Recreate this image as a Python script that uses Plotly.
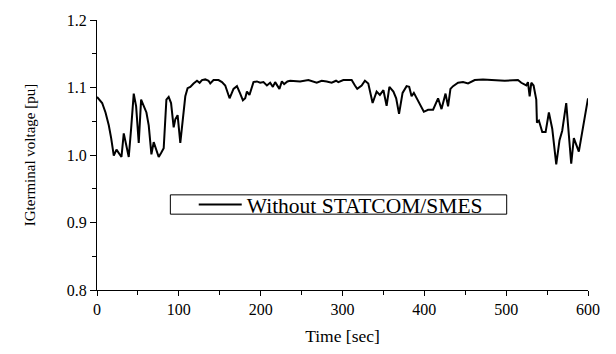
import plotly.graph_objects as go

# Induction generator terminal voltage over a 600 s wind-speed run
time_s = [
    0, 6.3, 10.4, 14.4, 17.3, 20.5, 23.8, 26.6, 29.9, 32.7, 36.0, 38.8, 41.7, 44.9,
    47.8, 51.0, 53.9, 57.1, 60.4, 63.2, 66.5, 69.3, 72.2, 75.4, 78.3, 81.5, 84.8,
    87.6, 90.5, 93.7, 95.7, 98.5, 101.8, 105.1, 107.9, 110.7, 114.0, 118.0, 122.2,
    125.4, 128.3, 132.3, 136.3, 138.4, 142.4, 148.5, 152.7, 156.7, 162.0, 166.8,
    171.0, 175.0, 178.3, 181.1, 183.2, 186.3, 191.2, 195.4, 199.4, 203.4, 207.6,
    211.6, 214.9, 217.7, 220.5, 222.9, 225.9, 228.7, 232.7, 236.0, 248.2, 258.3,
    268.5, 274.6, 280.7, 286.8, 292.1, 294.9, 301.0, 311.2, 315.2, 318.0, 323.4,
    327.4, 331.5, 336.8, 341.7, 345.7, 350.0, 353.9, 357.3, 362.2, 365.6, 369.1,
    373.4, 378.3, 381.5, 384.4, 387.2, 393.7, 399.4, 404.6, 410.7, 416.8, 421.0,
    425.9, 429.0, 431.9, 435.1, 441.2, 447.3, 453.4, 461.6, 471.7, 488.0, 498.2,
    514.4, 518.5, 524.6, 526.6, 528.7, 530.7, 533.5, 536.8, 537.6, 540.0, 544.1,
    548.2, 552.2, 556.3, 561.2, 565.2, 568.5, 573.4, 579.5, 582.7, 588.8, 593.6,
    600.0,
]
voltage_pu = [
    1.086, 1.077, 1.063, 1.044, 1.025, 0.999, 1.008, 1.003, 0.997, 1.032, 1.010,
    0.997, 1.039, 1.091, 1.072, 1.018, 1.082, 1.072, 1.063, 1.044, 1.001, 1.019,
    1.007, 0.997, 1.003, 1.010, 1.082, 1.086, 1.077, 1.041, 1.053, 1.059, 1.018,
    1.058, 1.087, 1.099, 1.101, 1.106, 1.110, 1.107, 1.111, 1.112, 1.110, 1.106,
    1.111, 1.111, 1.108, 1.103, 1.084, 1.098, 1.102, 1.091, 1.081, 1.084, 1.094,
    1.089, 1.108, 1.109, 1.107, 1.108, 1.103, 1.107, 1.101, 1.108, 1.102, 1.098,
    1.109, 1.105, 1.109, 1.110, 1.109, 1.111, 1.107, 1.110, 1.109, 1.107, 1.110,
    1.108, 1.111, 1.111, 1.103, 1.098, 1.103, 1.110, 1.106, 1.077, 1.094, 1.089,
    1.096, 1.073, 1.101, 1.094, 1.084, 1.061, 1.092, 1.102, 1.101, 1.087, 1.092,
    1.077, 1.064, 1.067, 1.067, 1.084, 1.068, 1.091, 1.072, 1.098, 1.102, 1.107,
    1.108, 1.106, 1.111, 1.112, 1.111, 1.110, 1.111, 1.107, 1.103, 1.108, 1.087,
    1.107, 1.103, 1.082, 1.048, 1.051, 1.034, 1.034, 1.063, 1.039, 0.986, 1.022,
    1.036, 1.077, 0.987, 1.025, 1.005, 1.039, 1.084,
]

x_ticks = [0, 100, 200, 300, 400, 500, 600]
y_ticks = [0.8, 0.9, 1.0, 1.1, 1.2]
series_name = "Without STATCOM/SMES"

SERIF = "Liberation Serif, Times New Roman, serif"

fig = go.Figure()
fig.add_trace(go.Scatter(
    x=time_s, y=voltage_pu, mode="lines", name=series_name,
    line=dict(color="black", width=2),
    showlegend=True,
))

# framed legend box
fig.add_shape(type="rect", xref="paper", yref="paper",
              x0=0.1494, x1=0.8344, y0=0.2809, y1=0.3524,
              line=dict(color="black", width=1), fillcolor="white", layer="below")

fig.update_layout(
    width=616, height=354,
    margin=dict(l=96.5, r=27.5, t=14, b=60.5),
    paper_bgcolor="white", plot_bgcolor="white",
    font=dict(family=SERIF, size=16, color="black"),
    legend=dict(x=0.197, y=0.3166, xanchor="left", yanchor="middle",
                bgcolor="rgba(0,0,0,0)", borderwidth=0,
                itemwidth=43, font=dict(family=SERIF, size=21.5)),
    xaxis=dict(
        range=[0, 600], tickvals=x_ticks, showgrid=False, zeroline=False,
        showline=True, linecolor="black", linewidth=1,
        ticks="outside", ticklen=5, tickwidth=1, tickcolor="black",
        minor=dict(dtick=50, ticks="outside", ticklen=4, tickcolor="black"),
        tickfont=dict(family=SERIF, size=16),
        title=dict(text="Time [sec]", font=dict(family=SERIF, size=17.5), standoff=12),
    ),
    yaxis=dict(
        range=[0.8, 1.2], tickvals=y_ticks, tickformat=".1f",
        showgrid=False, zeroline=False,
        showline=True, linecolor="black", linewidth=1,
        ticks="outside", ticklen=6, tickwidth=1, tickcolor="black",
        minor=dict(dtick=0.05, ticks="outside", ticklen=4, tickcolor="black"),
        tickfont=dict(family=SERIF, size=16),
        title=dict(text="IGterminal voltage [pu]", font=dict(family=SERIF, size=15), standoff=27),
    ),
)

fig.write_html("out.html")
